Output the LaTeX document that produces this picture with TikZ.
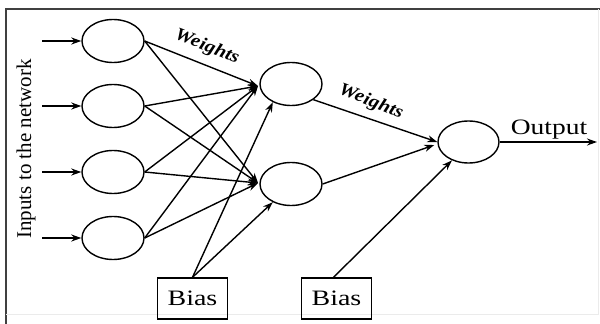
\documentclass[tikz,border=0pt]{standalone}
\usepackage{fontspec}
\setmainfont{Liberation Serif}
\usetikzlibrary{shapes.geometric,arrows.meta,calc}
\begin{document}
\begin{tikzpicture}[x=1pt,y=-1pt,
  neuron/.style={ellipse,draw,line width=1.4pt,minimum width=62pt,minimum height=43pt,inner sep=0pt},
  biasbox/.style={draw,line width=1.4pt,minimum width=70pt,minimum height=41pt,inner sep=0pt},
  conn/.style={line width=1.4pt,-{Stealth[length=10pt,width=7pt]}},
  lbl/.style={font=\fontsize{22}{24}\selectfont},
  wlbl/.style={font=\fontsize{18}{20}\selectfont\bfseries\itshape,rotate=-21,inner sep=0pt}]
\useasboundingbox (0,0) rectangle (600,324);
\fill[white] (0,0) rectangle (600,324);
% frame
\draw[line width=2pt,black!75] (6,324) -- (6,9) -- (600,9);
\draw[line width=0.8pt,black!8] (6,314) -- (598,314) -- (598,9);
% nodes
\node[neuron] (i1) at (113,41) {};
\node[neuron] (i2) at (113,106) {};
\node[neuron] (i3) at (113,172) {};
\node[neuron] (i4) at (113,238) {};
\node[neuron] (h1) at (291,84) {};
\node[neuron] (h2) at (291,184) {};
\node[neuron,minimum width=61pt,minimum height=42pt] (o) at (468.5,142) {};
\node[biasbox,lbl] (b1) at (192.5,298.5) {\scalebox{1.27}[1]{Bias}};
\node[biasbox,lbl] (b2) at (336.5,298.5) {\scalebox{1.27}[1]{Bias}};
% labels
\node[lbl,rotate=90] (inl) at (26,149) {\fontsize{21}{23}\selectfont Inputs to the network};
\node[lbl] (outl) at (549,130) {\scalebox{1.25}[1]{Output}};
\node[wlbl] (w1) at (207,47) {\scalebox{1.15}[1]{Weights}};
\node[wlbl] (w2) at (371,102) {\scalebox{1.15}[1]{Weights}};
% input arrows
\coordinate (a1) at (42,41);
\coordinate (a2) at (42,106);
\coordinate (a3) at (42,172);
\coordinate (a4) at (42,238);
\foreach \k in {1,2,3,4}{
  \draw[conn] (a\k) -- (i\k.west);
}
% convergence points
\coordinate (h1w) at (258,86);
\coordinate (h2w) at (258,183);
\foreach \k in {1,2,3,4}{
  \draw[conn] (i\k.east) -- (h1w);
  \draw[conn] (i\k.east) -- (h2w);
}
% bias 1
\draw[conn] (b1.north) -- (h1.225);
\draw[conn] (b1.north) -- (h2.225);
% hidden to output
\draw[conn] (h1.-35) -- (o.west);
\draw[conn] (h2.east) -- ($(o.west)+(-3,3)$);
\draw[conn] ([xshift=-3pt]b2.north) -- (o.228);
% output
\coordinate (oe) at (597,142);
\draw[conn] (o.east) -- (oe);
\end{tikzpicture}
\end{document}
